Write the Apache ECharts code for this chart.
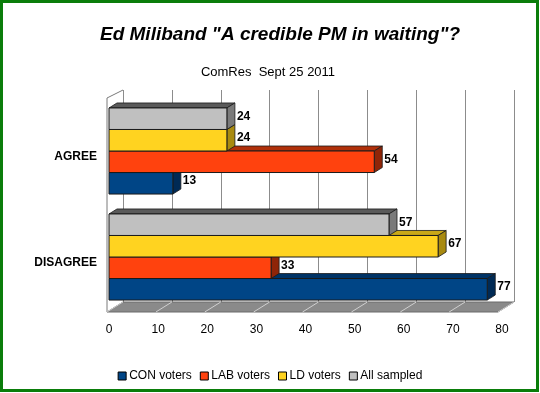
<!DOCTYPE html>
<html>
<head>
<meta charset="utf-8">
<script src="https://cdn.jsdelivr.net/npm/echarts@6/dist/echarts.min.js"></script>
<style>
html,body{margin:0;padding:0;background:#fff;}
#c{width:540px;height:393px;}
</style>
</head>
<body>
<div id="c"></div>
<script>
// ---- data ----
var categories = ['DISAGREE', 'AGREE'];
var seriesNames = ['CON voters', 'LAB voters', 'LD voters', 'All sampled'];
var conVoters = [77, 13];
var labVoters = [33, 54];
var ldVoters = [67, 24];
var allSampled = [57, 24];
var xTicks = [0, 10, 20, 30, 40, 50, 60, 70, 80];

// ---- styles ----
var frontColors = ['#004586', '#ff420e', '#ffd320', '#c0c0c0'];
var sideColors = ['#002a55', '#8f2508', '#a88a10', '#7a7a7a'];
var topColors = ['#003366', '#b0300a', '#c9a818', '#5a5a5a'];
var DX = 8, DY = -5;
var FONT = 'Liberation Sans, Arial, sans-serif';

function makeRender(si) {
  return function (params, api) {
    var val = api.value(0), cat = api.value(1);
    var base = api.coord([0, cat]);
    var end = api.coord([val, cat]);
    var band = api.size([0, 1])[1];
    var bh = band * 0.203;
    var bottom = base[1] + 2 * bh;
    var y1 = bottom - (si + 1) * bh, y2 = y1 + bh;
    var x0 = base[0], x1 = end[0];
    var stroke = '#1a1a1a';
    return {
      type: 'group',
      children: [
        { type: 'polygon', shape: { points: [[x0, y1], [x0 + DX, y1 + DY], [x1 + DX, y1 + DY], [x1, y1]] },
          style: { fill: topColors[si], stroke: stroke, lineWidth: 0.8 } },
        { type: 'polygon', shape: { points: [[x1, y1], [x1 + DX, y1 + DY], [x1 + DX, y2 + DY], [x1, y2]] },
          style: { fill: sideColors[si], stroke: stroke, lineWidth: 0.8 } },
        { type: 'rect', shape: { x: x0, y: y1, width: x1 - x0, height: y2 - y1 },
          style: { fill: frontColors[si], stroke: stroke, lineWidth: 1 } },
        { type: 'text', x: x1 + DX + 2, y: (y1 + y2) / 2 + DY / 2,
          style: { text: String(val), fill: '#000', font: 'bold 12px ' + FONT, textAlign: 'left', textVerticalAlign: 'middle' } }
      ]
    };
  };
}

var seriesData = [conVoters, labVoters, ldVoters, allSampled];
var series = seriesData.map(function (arr, si) {
  return {
    name: seriesNames[si],
    type: 'custom',
    xAxisIndex: 0, yAxisIndex: 0,
    itemStyle: { color: frontColors[si] },
    renderItem: makeRender(si),
    encode: { x: 0, y: 1 },
    data: arr.map(function (v, i) { return [v, i]; }),
    z: 5
  };
});

var chart = echarts.init(document.getElementById('c'));
chart.setOption({
  backgroundColor: '#fff',
  animation: false,
  title: [
    { text: 'Ed Miliband "A credible PM in waiting"?', left: 275, textAlign: 'center', top: 20,
      textStyle: { fontFamily: FONT, fontSize: 19, fontWeight: 'bold', fontStyle: 'italic', color: '#000' } },
    { text: 'ComRes  Sept 25 2011', left: 263, textAlign: 'center', top: 61,
      textStyle: { fontFamily: FONT, fontSize: 13, fontWeight: 'normal', color: '#000' } }
  ],
  legend: {
    bottom: 6, left: 'center', icon: 'rect', itemWidth: 8, itemHeight: 8, itemGap: 8,
    itemStyle: { borderColor: '#000', borderWidth: 1 },
    textStyle: { fontFamily: FONT, fontSize: 12, color: '#000', padding: [0, 0, 0, -2] },
    data: seriesNames
  },
  grid: [
    { left: 109, right: 38, top: 98, bottom: 83 },
    { left: 123, right: 26, top: 90, bottom: 91 }
  ],
  xAxis: [
    { gridIndex: 0, type: 'value', min: xTicks[0], max: xTicks[xTicks.length - 1], interval: 10,
      axisLine: { show: false }, axisTick: { show: false }, splitLine: { show: false },
      axisLabel: { margin: 14, fontFamily: FONT, fontSize: 12, color: '#000' } },
    { gridIndex: 1, type: 'value', min: xTicks[0], max: xTicks[xTicks.length - 1], interval: 10,
      axisLine: { show: false }, axisTick: { show: false }, axisLabel: { show: false },
      splitLine: { show: true, lineStyle: { color: '#8c8c8c', width: 1 } } }
  ],
  yAxis: [
    { gridIndex: 0, type: 'category', data: categories,
      axisLine: { show: false }, axisTick: { show: false },
      axisLabel: { margin: 12, formatter: function (v) { return '{a|' + v + '}'; },
        rich: { a: { fontFamily: FONT, fontSize: 12, fontWeight: 'bold', color: '#000', padding: [11, 0, 0, 0] } } } },
    { gridIndex: 1, type: 'category', data: categories, show: false }
  ],
  series: series
});

// decoration: floor, left wall, frame (positions from the library's scales)
function px(axisIdx, v) { return chart.convertToPixel({ xAxisIndex: axisIdx }, v); }
var frontY = 312, backY = 302, wallTop = 98, backTop = 90;
var fl = px(0, 0) - 2, fr = px(0, 80) - 4, bl = px(1, 0), br = px(1, 80);
var g = [
  { type: 'polygon', z: 1, shape: { points: [[fl, frontY], [fr, frontY], [br, backY], [bl, backY]] },
    style: { fill: '#8a8a8a', stroke: '#6a6a6a', lineWidth: 1 } },
  { type: 'polyline', z: 1, shape: { points: [[fl, frontY], [fl, wallTop], [bl, backTop]] },
    style: { stroke: '#7a7a7a', lineWidth: 1, fill: null } },
  { type: 'rect', z: 100, shape: { x: 1.5, y: 1.5, width: 536, height: 389 },
    style: { fill: null, stroke: '#0a7d0a', lineWidth: 3 } }
];
xTicks.forEach(function (t) {
  var a = px(0, t) - 2 - (t / 80) * 2, b = px(1, t);
  g.push({ type: 'line', z: 2, shape: { x1: a, y1: frontY, x2: b, y2: backY },
    style: { stroke: '#d0d0d0', lineWidth: 1 } });
});
chart.setOption({ graphic: g });
</script>
</body>
</html>
